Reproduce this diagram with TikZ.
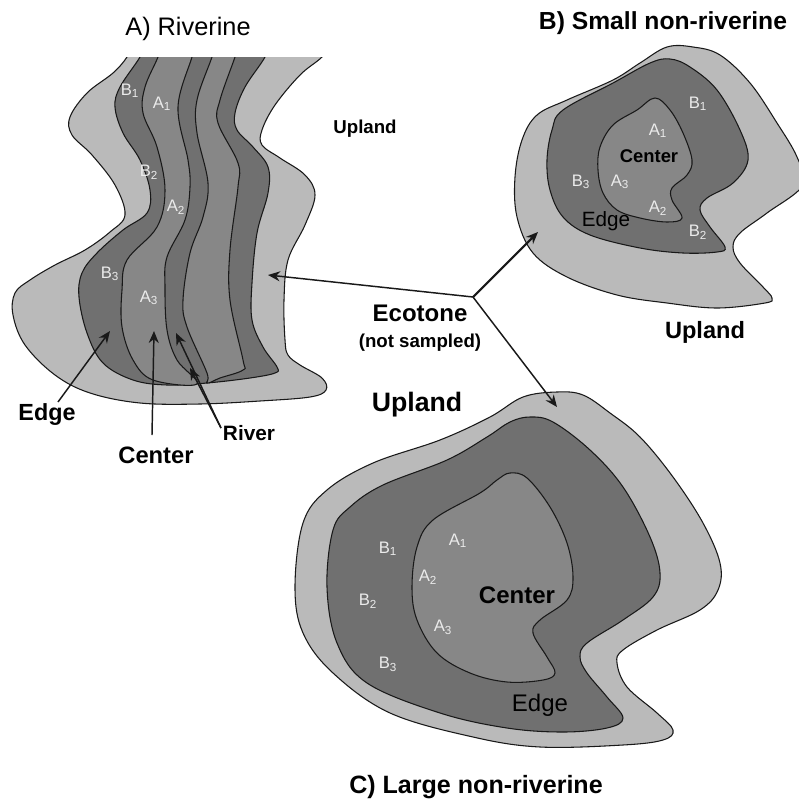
\documentclass[tikz,border=0pt]{standalone}
\usepackage{fontspec}
\setmainfont{Liberation Sans}
\usepackage{xcolor}
\usetikzlibrary{arrows.meta}
\definecolor{ecotonegray}{gray}{0.73}
\definecolor{edgegray}{gray}{0.44}
\definecolor{centergray}{gray}{0.53}

\begin{document}
\begin{tikzpicture}[
  x=0.75pt, y=-0.75pt,
  every node/.style={inner sep=0pt, align=center},
  zone/.style={draw=black!90, line width=0.8pt},
  ecotone/.style={zone, fill=ecotonegray},
  edgezone/.style={zone, fill=edgegray},
  centerzone/.style={zone, fill=centergray},
  boldtext/.style={font=\bfseries\fontsize{#1}{#1}\selectfont, text=black},
  plaintext/.style={font=\fontsize{#1}{#1}\selectfont, text=black},
  site/.style={font=\fontsize{12.5}{12.5}\selectfont, text=white!92!black},
  pointer/.style={-{Stealth[length=9pt,width=7.5pt]}, draw=black!90, line width=1.1pt},
  >=Stealth
]
\clip (0,0) rectangle (799,803);

\begin{scope}
\clip (0,57) rectangle (400,450);
\draw[ecotone] plot[smooth cycle, tension=0.6] coordinates {(135,40) (127,57) (113,73) (87,93) (70,117) (72,135) (92,155) (115,185) (125,215) (110,232) (85,250) (55,265) (30,280) (15,293) (13,315) (25,345) (55,375) (90,393) (140,403) (200,404) (260,401) (310,397) (326,390) (322,378) (300,365) (288,355) (285,340) (284,300) (288,260) (305,225) (315,195) (305,175) (280,158) (262,145) (262,130) (275,105) (300,75) (322,57) (335,40)};
\draw[edgezone] plot[smooth cycle, tension=0.6] coordinates {(147,40) (140,57) (120,87) (115,107) (123,133) (140,160) (150,190) (147,213) (123,230) (97,253) (82,273) (79,297) (87,333) (103,363) (133,380) (167,385) (207,383) (250,378) (275,373) (277,367) (263,347) (252,320) (252,283) (257,233) (268,193) (268,167) (253,147) (237,130) (235,113) (245,87) (265,57) (270,40)};
\draw[centerzone] plot[smooth cycle, tension=0.6] coordinates {(163,40) (158,57) (145,87) (143,113) (157,147) (165,190) (157,227) (127,260) (122,290) (122,327) (133,360) (153,380) (197,384) (177,360) (167,330) (165,287) (167,257) (185,220) (190,187) (188,160) (178,107) (192,57) (197,40)};
\draw[centerzone] plot[smooth cycle, tension=0.6] coordinates {(217,40) (212,57) (197,100) (197,133) (208,183) (203,217) (190,253) (183,300) (187,327) (207,373) (207,383) (220,378) (243,370) (243,360) (230,300) (230,250) (238,187) (238,163) (218,123) (220,100) (235,57) (240,40)};
\end{scope}

\draw[ecotone] plot[smooth cycle, tension=0.6] coordinates {(667,47) (693,47) (720,55) (750,83) (777,123) (797,157) (803,185) (767,213) (740,233) (733,247) (740,263) (763,287) (772,298) (765,303) (717,308) (667,303) (617,295) (567,277) (533,253) (517,217) (515,177) (522,140) (537,115) (567,100) (613,80) (640,63)};
\draw[edgezone] plot[smooth cycle, tension=0.6] coordinates {(670,59) (690,67) (717,90) (740,130) (748,160) (733,183) (707,198) (700,210) (710,227) (725,247) (717,252) (683,253) (640,248) (590,235) (563,217) (550,190) (547,160) (552,130) (563,110) (613,83) (650,63)};
\draw[centerzone] plot[smooth cycle, tension=0.6] coordinates {(655,98) (670,110) (683,133) (692,160) (687,175) (672,188) (672,200) (682,218) (667,222) (640,218) (617,210) (603,193) (598,170) (600,147) (613,125) (637,110)};

\draw[ecotone] plot[smooth cycle, tension=0.6] coordinates {(557,392) (583,395) (610,413) (640,437) (673,477) (703,523) (720,563) (718,590) (700,610) (657,630) (623,650) (617,663) (627,687) (657,713) (673,730) (663,740) (623,745) (540,747) (473,737) (390,713) (333,673) (303,633) (295,587) (303,523) (327,490) (373,463) (440,440) (490,417) (523,397)};
\draw[edgezone] plot[smooth cycle, tension=0.6] coordinates {(530,417) (553,422) (590,450) (623,487) (650,537) (660,573) (653,597) (623,620) (587,643) (580,657) (587,673) (607,697) (623,718) (607,728) (563,732) (507,728) (440,713) (367,683) (337,643) (327,587) (333,530) (350,507) (383,485) (447,460) (487,437) (510,422)};
\draw[centerzone] plot[smooth cycle, tension=0.6] coordinates {(510,473) (527,478) (550,507) (567,543) (573,577) (567,600) (540,620) (533,633) (547,657) (555,673) (543,680) (507,682) (470,673) (437,653) (417,620) (412,587) (417,547) (433,520) (480,493) (497,480)};

\node[plaintext=19] (titleA) at (188,29) {A) Riverine};
\node[boldtext=18.5] (titleB) at (663,23) {B) Small non-riverine};
\node[boldtext=18.8] (titleC) at (476,787) {C) Large non-riverine};
\node[boldtext=14] (uplandA) at (365,129) {Upland};
\node[boldtext=17.7] (uplandB) at (705,332) {Upland};
\node[boldtext=20] (uplandC) at (417,405) {Upland};
\node[boldtext=18] (ecotonelabel) at (420,313) {Ecotone};
\node[boldtext=14] (notsampled) at (420,343) {(not sampled)};

\node[boldtext=17.5] (edgeA) at (47,415) {Edge};
\node[boldtext=17.8] (centerA) at (156,455) {Center};
\node[boldtext=15.6] (riverA) at (249,433) {River};
\node[boldtext=13.8] (centerB) at (649,156) {Center};
\node[plaintext=15.5] (edgeB) at (606,221) {Edge};
\node[boldtext=18] (centerC) at (517,595) {Center};
\node[plaintext=18] (edgeC) at (540,705) {Edge};

\node[site] (a1A) at (162,104) {A\textsubscript{1}};
\node[site] (a2A) at (176,207) {A\textsubscript{2}};
\node[site] (a3A) at (149,298) {A\textsubscript{3}};
\node[site] (b1A) at (130,91) {B\textsubscript{1}};
\node[site] (b2A) at (149,172) {B\textsubscript{2}};
\node[site] (b3A) at (110,274) {B\textsubscript{3}};

\node[site] (a1B) at (658,131) {A\textsubscript{1}};
\node[site] (a2B) at (658,208) {A\textsubscript{2}};
\node[site] (a3B) at (620,182) {A\textsubscript{3}};
\node[site] (b1B) at (698,104) {B\textsubscript{1}};
\node[site] (b2B) at (698,232) {B\textsubscript{2}};
\node[site] (b3B) at (581,182) {B\textsubscript{3}};

\node[site] (a1C) at (458,541) {A\textsubscript{1}};
\node[site] (a2C) at (428,577) {A\textsubscript{2}};
\node[site] (a3C) at (443,627) {A\textsubscript{3}};
\node[site] (b1C) at (388,549) {B\textsubscript{1}};
\node[site] (b2C) at (368,601) {B\textsubscript{2}};
\node[site] (b3C) at (388,664) {B\textsubscript{3}};

\coordinate (hub) at (473,297);
\coordinate (tipA) at (268,275);
\coordinate (tipB) at (538,232);
\coordinate (tipC) at (557,407);
\coordinate (tipedge) at (110,331);
\coordinate (tipcenter) at (154,331);
\coordinate (tipriver) at (176,333);
\coordinate (tipriverlow) at (190,368);
\coordinate (startedge) at (58,402);
\coordinate (startcenter) at (152,435);
\coordinate (startriver) at (221,428);

\draw[pointer] (hub) -- (tipA);
\draw[pointer, line width=1.6pt] (hub) -- (tipB);
\draw[pointer] (hub) -- (tipC);
\draw[pointer] (startedge) -- (tipedge);
\draw[pointer] (startcenter) -- (tipcenter);
\draw[pointer] (startriver) -- (tipriver);
\draw[pointer] (startriver) -- (tipriverlow);
\end{tikzpicture}
\end{document}
